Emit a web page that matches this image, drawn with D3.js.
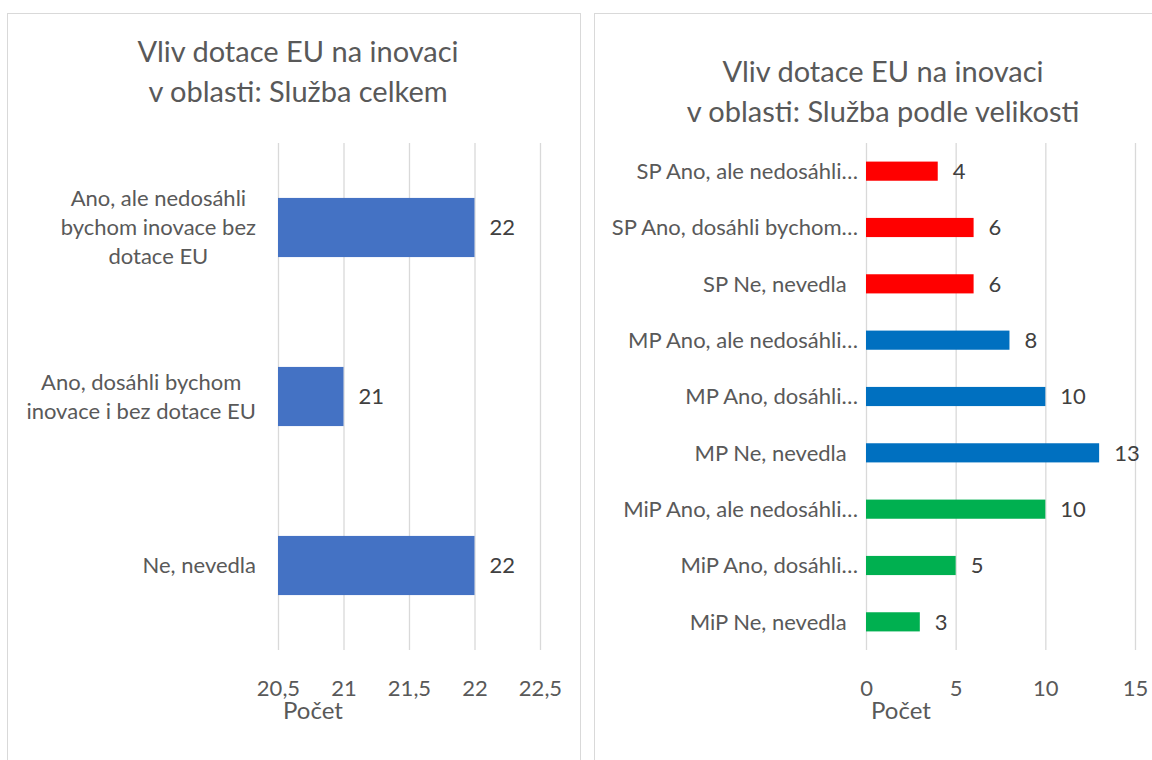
<!DOCTYPE html>
<html>
<head>
<meta charset="utf-8">
<script src="https://cdn.jsdelivr.net/npm/d3@7"></script>
<style>
  body { margin: 0; background: #fff; }
  text { font-family: Lato, "Open Sans", sans-serif; }
</style>
</head>
<body>
<svg id="chart" width="1152" height="760"></svg>
<script>
// left chart - celkem
var leftTitle = ["Vliv dotace EU na inovaci", "v oblasti: Služba celkem"];
var leftCats = [
  ["Ano, ale nedosáhli", "bychom inovace bez", "dotace EU"],
  ["Ano, dosáhli bychom", "inovace i bez dotace EU"],
  ["Ne, nevedla"]
];
var leftValues = [22, 21, 22];
var leftTicks = [20.5, 21, 21.5, 22, 22.5];

// right chart - podle velikosti
var rightTitle = ["Vliv dotace EU na inovaci", "v oblasti: Služba podle velikosti"];
var rightCats = [
  "SP Ano, ale nedosáhli…", "SP Ano, dosáhli bychom…", "SP Ne, nevedla  ",
  "MP Ano, ale nedosáhli…", "MP Ano, dosáhli…", "MP Ne, nevedla  ",
  "MiP Ano, ale nedosáhli…", "MiP Ano, dosáhli…", "MiP Ne, nevedla  "
];
var rightGroups = ["SP", "SP", "SP", "MP", "MP", "MP", "MiP", "MiP", "MiP"];
var rightValues = [4, 6, 6, 8, 10, 13, 10, 5, 3];
var rightTicks = [0, 5, 10, 15];
var groupColors = { SP: "#ff0000", MP: "#0070c0", MiP: "#00b050" };

var axisTitle = "Počet";

var svg = d3.select("#chart");
var czFmt = d3.formatLocale({ decimal: ",", thousands: " ", grouping: [3], currency: ["", " Kč"] }).format("~g");

var plotTop = 143, plotBottom = 650;
var labelSize = "22px";

// panel frames
svg.append("rect").attr("x", 7.5).attr("y", 13.5).attr("width", 573).attr("height", 800)
  .attr("fill", "#fff").attr("stroke", "#d9d9d9");
svg.append("rect").attr("x", 594.5).attr("y", 13.5).attr("width", 600).attr("height", 800)
  .attr("fill", "#fff").attr("stroke", "#d9d9d9");

function drawTitle(lines, cx, y0) {
  svg.append("text")
    .attr("text-anchor", "middle")
    .attr("fill", "#595959")
    .style("font-size", "29px")
    .selectAll("tspan").data(lines).enter().append("tspan")
      .attr("x", cx)
      .attr("y", function(d, i) { return y0 + i * 40; })
      .attr("dy", "0.35em")
      .text(function(d) { return d; });
}

function drawGrid(x, ticks, fmt, titleX) {
  // gridlines
  svg.append("g")
    .attr("transform", "translate(0," + plotBottom + ")")
    .call(d3.axisBottom(x).tickValues(ticks).tickSize(-(plotBottom - plotTop)).tickFormat(""))
    .call(function(g) { g.select(".domain").remove(); })
    .selectAll("line").attr("stroke", "#d9d9d9").attr("stroke-width", 1.3);

  // tick labels
  svg.append("g")
    .attr("transform", "translate(0," + plotBottom + ")")
    .call(d3.axisBottom(x).tickValues(ticks).tickSize(0).tickPadding(30).tickFormat(fmt))
    .call(function(g) { g.select(".domain").remove(); })
    .selectAll("text")
      .attr("fill", "#595959")
      .style("font-size", labelSize)
      .style("font-family", "Lato, sans-serif");

  svg.append("text")
    .attr("x", titleX).attr("y", 711).attr("dy", "0.35em")
    .attr("text-anchor", "middle")
    .attr("fill", "#595959")
    .style("font-size", "24px")
    .text(axisTitle);
}

// ---------- left ----------
drawTitle(leftTitle, 298, 52);

var xL = d3.scaleLinear().domain([20.5, 22.5]).range([278, 540]);
var yL = d3.scaleBand().domain(d3.range(leftCats.length)).range([plotTop, plotBottom])
  .paddingInner(0.65).paddingOuter(0.325);

drawGrid(xL, leftTicks, czFmt, 313);

svg.append("g").selectAll("rect").data(leftValues).enter().append("rect")
  .attr("x", xL(20.5))
  .attr("y", function(d, i) { return yL(i); })
  .attr("width", function(d) { return xL(d) - xL(20.5); })
  .attr("height", yL.bandwidth())
  .attr("fill", "#4472c4");

svg.append("g").selectAll("text").data(leftValues).enter().append("text")
  .attr("x", function(d) { return xL(d) + 15; })
  .attr("y", function(d, i) { return yL(i) + yL.bandwidth() / 2; })
  .attr("dy", "0.35em")
  .attr("fill", "#404040")
  .style("font-size", labelSize)
  .text(function(d) { return d; });

// multi-line category labels, block right aligned, lines centred
leftCats.forEach(function(lines, i) {
  var cy = yL(i) + yL.bandwidth() / 2;
  var t = svg.append("text")
    .attr("text-anchor", "middle")
    .attr("fill", "#595959")
    .style("font-size", labelSize);
  var spans = t.selectAll("tspan").data(lines).enter().append("tspan")
    .attr("y", function(d, j) { return cy + (j - (lines.length - 1) / 2) * 29; })
    .attr("dy", "0.35em")
    .text(function(d) { return d; });
  var maxW = 0;
  spans.each(function() { maxW = Math.max(maxW, this.getComputedTextLength()); });
  spans.attr("x", 256 - maxW / 2);
});

// ---------- right ----------
drawTitle(rightTitle, 883, 72);

var xR = d3.scaleLinear().domain([0, 15]).range([866, 1135]);
var yR = d3.scaleBand().domain(d3.range(rightCats.length)).range([plotTop, plotBottom])
  .paddingInner(0.66).paddingOuter(0.33);

drawGrid(xR, rightTicks, czFmt, 901);

svg.append("g").selectAll("rect").data(rightValues).enter().append("rect")
  .attr("x", xR(0))
  .attr("y", function(d, i) { return yR(i); })
  .attr("width", function(d) { return xR(d) - xR(0); })
  .attr("height", yR.bandwidth())
  .attr("fill", function(d, i) { return groupColors[rightGroups[i]]; });

svg.append("g").selectAll("text").data(rightValues).enter().append("text")
  .attr("x", function(d) { return xR(d) + 15; })
  .attr("y", function(d, i) { return yR(i) + yR.bandwidth() / 2; })
  .attr("dy", "0.35em")
  .attr("fill", "#404040")
  .style("font-size", labelSize)
  .text(function(d) { return d; });

svg.append("g").selectAll("text").data(rightCats).enter().append("text")
  .attr("x", 858)
  .attr("y", function(d, i) { return yR(i) + yR.bandwidth() / 2; })
  .attr("dy", "0.35em")
  .attr("text-anchor", "end")
  .attr("fill", "#595959")
  .style("font-size", labelSize)
  .style("white-space", "pre")
  .text(function(d) { return d; });
</script>
</body>
</html>
